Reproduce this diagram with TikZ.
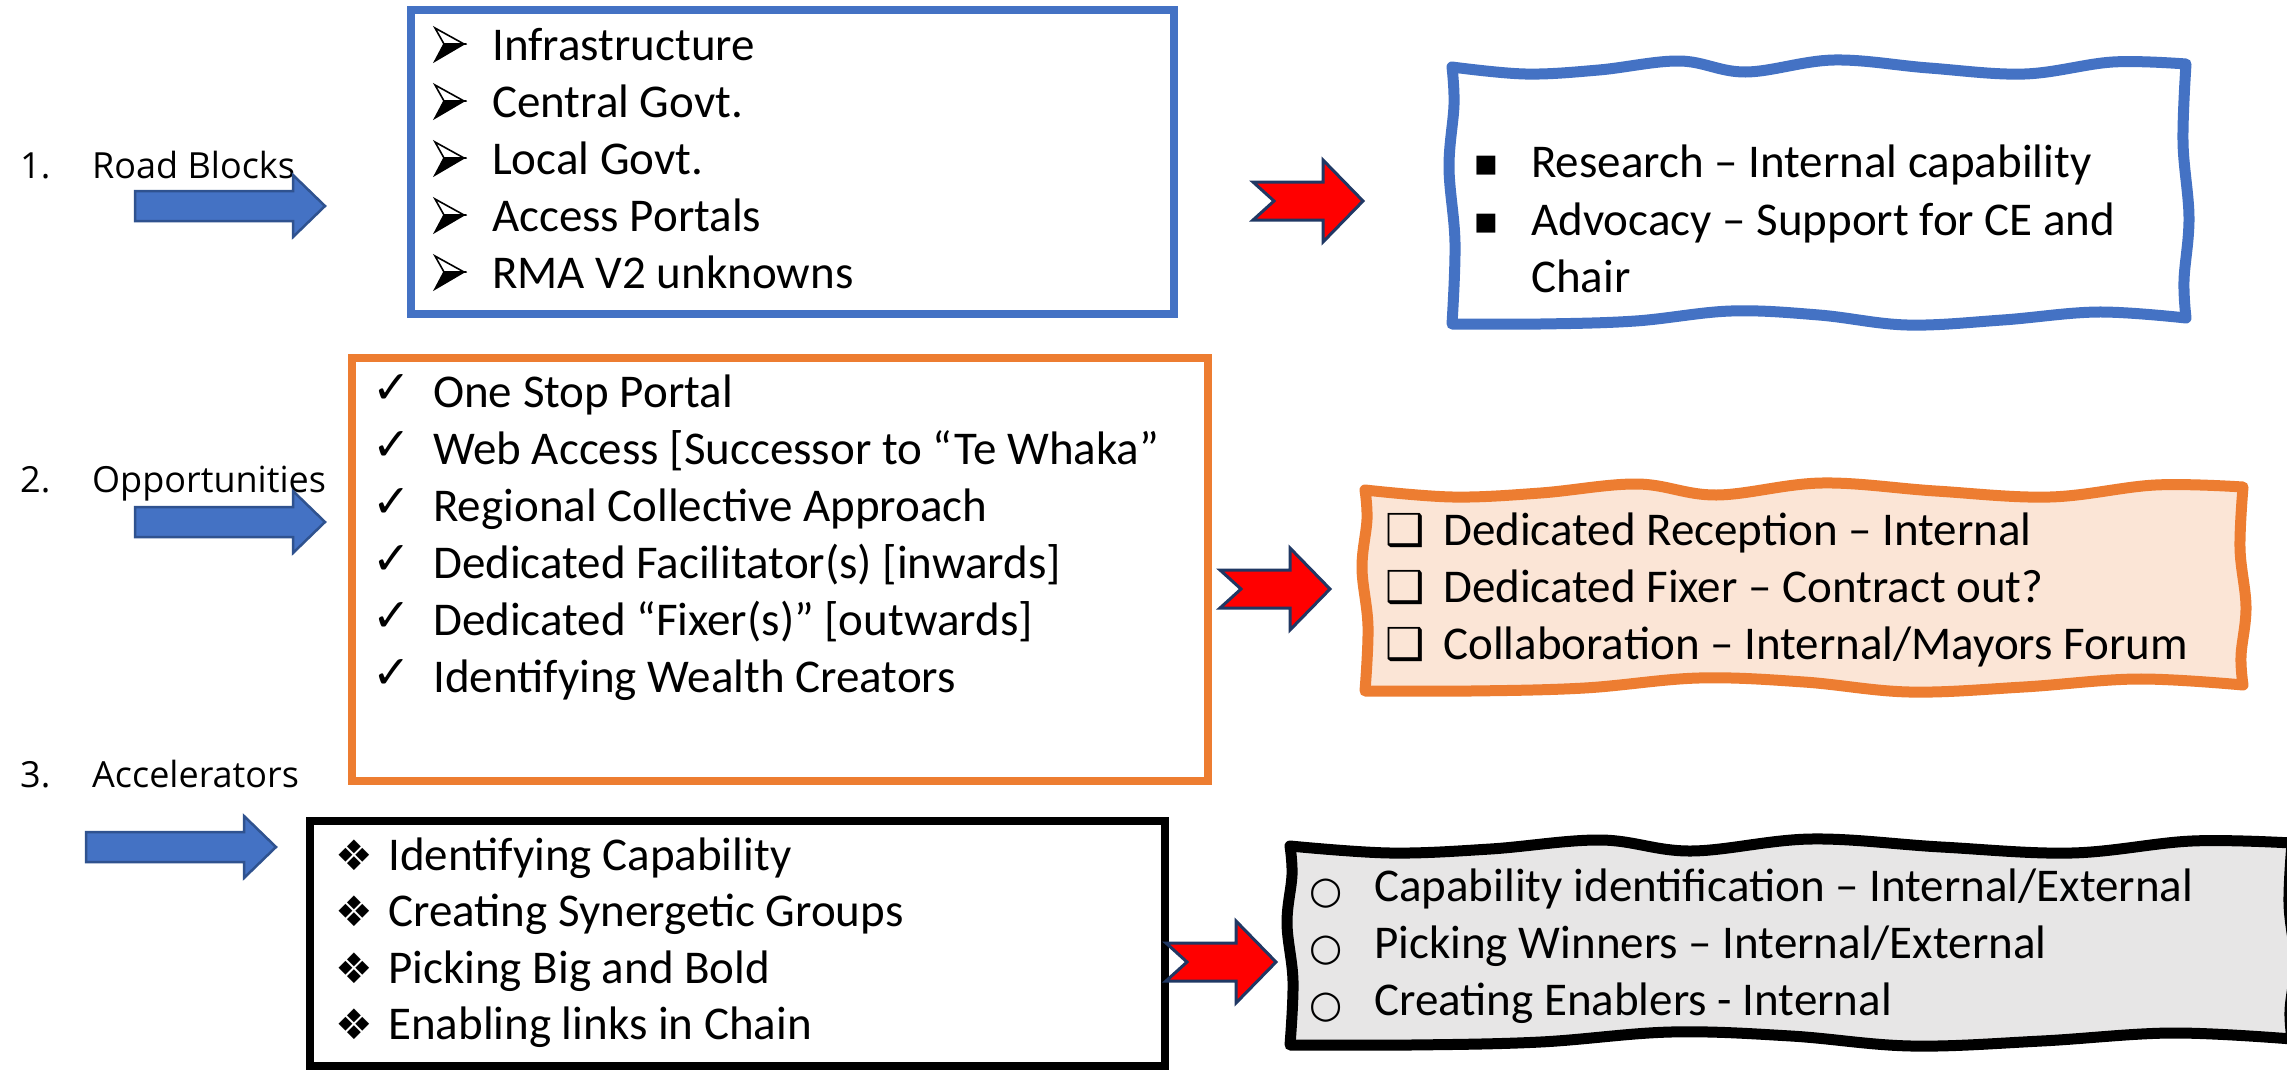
\documentclass[tikz,border=0pt]{standalone}
\usepackage{fontspec}
\setmainfont{Carlito}
\newfontfamily\dingf{DejaVu Sans}
\newfontfamily\labf{Open Sans}
\definecolor{pblue}{HTML}{4472C4}
\definecolor{pblueline}{HTML}{2F528F}
\definecolor{porange}{HTML}{ED7D31}
\definecolor{ppeach}{HTML}{FBE5D6}
\definecolor{pgrey}{HTML}{E7E6E6}
\definecolor{pnavy}{HTML}{203864}
\newcommand\wavyrect[5]{%
 \pgfmathsetmacro\wL{#2}\pgfmathsetmacro\wT{#3}%
 \pgfmathsetmacro\wR{#4}\pgfmathsetmacro\wB{#5}%
 \pgfmathsetmacro\wW{\wR-\wL}\pgfmathsetmacro\wH{\wB-\wT}%
 \path[#1] plot[smooth,tension=0.6] coordinates {(\wL,\wT) ({\wL+0.1*\wW},{\wT+7}) ({\wL+0.2*\wW},{\wT+3}) ({\wL+0.31*\wW},{\wT-6}) ({\wL+0.4*\wW},{\wT+5}) ({\wL+0.52*\wW},{\wT-7}) ({\wL+0.65*\wW},{\wT+1}) ({\wL+0.78*\wW},{\wT+7}) ({\wL+0.9*\wW},{\wT-5}) (\wR,{\wT-3})}
 -- plot[smooth,tension=0.6] coordinates {(\wR,{\wT-3}) ({\wR-3},{\wT+0.3*\wH}) ({\wR+3},{\wT+0.6*\wH}) ({\wR-2},{\wT+0.85*\wH}) (\wR,\wB)}
 -- plot[smooth,tension=0.6] coordinates {(\wR,\wB) ({\wR-0.12*\wW},{\wB-6}) ({\wR-0.25*\wW},{\wB+2}) ({\wR-0.38*\wW},{\wB+7}) ({\wR-0.5*\wW},{\wB-3}) ({\wR-0.62*\wW},{\wB-7}) ({\wR-0.75*\wW},{\wB+3}) ({\wR-0.88*\wW},{\wB+6}) (\wL,{\wB+6})}
 -- plot[smooth,tension=0.6] coordinates {(\wL,{\wB+6}) ({\wL+3},{\wT+0.7*\wH}) ({\wL-3},{\wT+0.4*\wH}) ({\wL+2},{\wT+0.15*\wH}) (\wL,\wT)}
 -- cycle;%
}
\newcommand\bluearrow[2]{\filldraw[barrow] (#1,{#2-15}) -- ({#1+158},{#2-15}) -- ({#1+158},{#2-31}) -- ({#1+190},#2) -- ({#1+158},{#2+31}) -- ({#1+158},{#2+15}) -- (#1,{#2+15}) -- cycle;}
\newcommand\redarrow[2]{\filldraw[rarrow] (#1,{#2-19}) -- ({#1+70},{#2-19}) -- ({#1+70},{#2-41}) -- ({#1+110},#2) -- ({#1+70},{#2+41}) -- ({#1+70},{#2+19}) -- (#1,{#2+19}) -- ({#1+21},#2) -- cycle;}
% 3D arrowhead bullet: #1 left x, #2 baseline y
\newcommand\arrowbul[2]{%
 \filldraw[fill=white, draw=black, line width=1.6pt, line join=miter] (#1,{#2-32}) -- ({#1+29},{#2-16}) -- ({#1+9},{#2-16}) -- cycle;
 \filldraw[fill=black, draw=black, line width=1.6pt, line join=miter] ({#1+9},{#2-16}) -- ({#1+29},{#2-16}) -- (#1,{#2+1}) -- cycle;}
\begin{document}
\begin{tikzpicture}[x=1pt,y=-1pt,
 itm/.style={anchor=base west, inner sep=0pt, font=\fontsize{47}{57}\selectfont},
 bul/.style={anchor=base west, inner sep=0pt},
 lab/.style={anchor=base west, inner sep=0pt, font=\labf\fontsize{36}{44}\selectfont},
 rectbox/.style={line width=7.5pt},
 wavy/.style={line width=11pt, line join=round},
 barrow/.style={fill=pblue, draw=pblueline, line width=2.5pt, line join=miter},
 rarrow/.style={fill=red, draw=pnavy, line width=3pt, line join=miter}]
\useasboundingbox (0,0) rectangle (2287,1069);
\clip (0,0) rectangle (2287,1069);
\fill[white] (0,0) rectangle (2287,1069);

% left labels
\node[lab] (n1) at (20,178) {1.};
\node[lab] (l1) at (92,178) {Road Blocks};
\node[lab] (n2) at (20,492) {2.};
\node[lab] (l2) at (92,492) {Opportunities};
\node[lab] (n3) at (20,787) {3.};
\node[lab] (l3) at (92,787) {Accelerators};

% blue arrows
\bluearrow{135}{206}
\bluearrow{135}{522}
\bluearrow{86}{847}

% box 1: road blocks
\draw[rectbox, draw=pblue] (411,10) rectangle (1174,314);
\foreach \txt [count=\i from 0] in {{Infrastructure},{Central Govt.},{Local Govt.},{Access Portals},{RMA V2 unknowns}}{
 \arrowbul{435}{60+57*\i}
 \node[itm] (rbt\i) at (492,{60+57*\i}) {\txt};
}

% box 2: opportunities
\draw[rectbox, draw=porange] (352,358) rectangle (1208,781);
\foreach \txt [count=\i from 0] in {{One Stop Portal},{Web Access [Successor to “Te Whaka”},{Regional Collective Approach},{Dedicated Facilitator(s) [inwards]},{Dedicated “Fixer(s)” [outwards]},{Identifying Wealth Creators}}{
 \node[bul, font=\dingf\bfseries\fontsize{46}{46}\selectfont] (opb\i) at (372,{403+57*\i}) {✓};
 \node[itm] (opt\i) at (433,{407+57*\i}) {\txt};
}

% box 3: accelerators
\draw[rectbox, draw=black] (310,821) rectangle (1165,1066);
\foreach \txt [count=\i from 0] in {{Identifying Capability},{Creating Synergetic Groups},{Picking Big and Bold},{Enabling links in Chain}}{
 \node[bul, font=\dingf\fontsize{42}{40}\selectfont] (acb\i) at (335,{870+56.5*\i}) {❖};
 \node[itm] (act\i) at (388,{870+56.5*\i}) {\txt};
}

% red arrows
\redarrow{1253}{201}
\redarrow{1220}{589}
\redarrow{1166}{962}

% result box 1 (blue wavy)
\wavyrect{draw=pblue, fill=white, wavy}{1452}{67}{2186}{318}
\node[bul, font=\dingf\fontsize{38}{40}\selectfont] (rsb0) at (1473,175) {▪};
\node[itm] (rst0) at (1531,177) {Research – Internal capability};
\node[bul, font=\dingf\fontsize{38}{40}\selectfont] (rsb1) at (1473,233) {▪};
\node[itm] (rst1) at (1531,235) {Advocacy – Support for CE and};
\node[itm] (rst2) at (1531,292) {Chair};

% result box 2 (orange wavy)
\wavyrect{draw=porange, fill=ppeach, wavy}{1365}{490}{2243}{685}
\foreach \txt [count=\i from 0] in {{Dedicated Reception – Internal},{Dedicated Fixer – Contract out?},{Collaboration – Internal/Mayors Forum}}{
 \node[bul, font=\dingf\fontsize{44}{40}\selectfont] (pcb\i) at (1385,{545+57*\i}) {❑};
 \node[itm] (pct\i) at (1443,{545+57*\i}) {\txt};
}

% result box 3 (grey wavy)
\wavyrect{draw=black, fill=pgrey, wavy}{1290}{846}{2292}{1039}
\foreach \txt [count=\i from 0] in {{Capability identification – Internal/External},{Picking Winners – Internal/External},{Creating Enablers - Internal}}{
 \node[bul, font=\dingf\fontsize{38}{40}\selectfont] (gyb\i) at (1309,{903+57*\i}) {○};
 \node[itm] (gyt\i) at (1374,{901+57*\i}) {\txt};
}
\end{tikzpicture}
\end{document}
